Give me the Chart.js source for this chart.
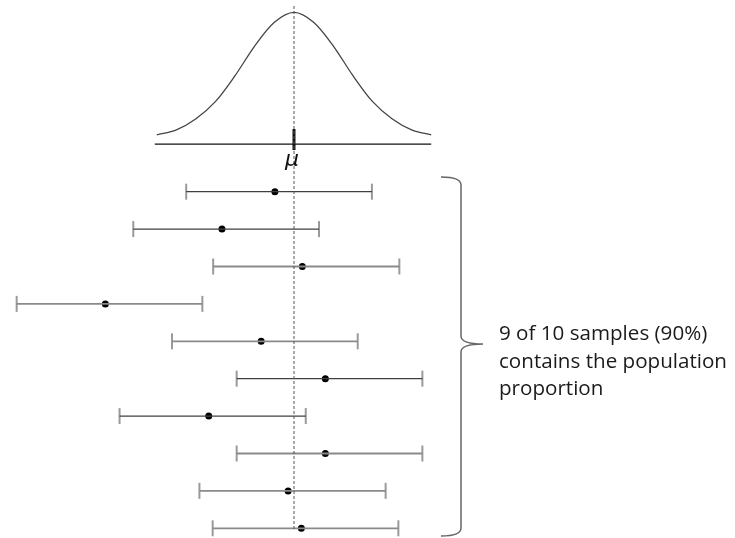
<!DOCTYPE html>
<html>
<head>
<meta charset="utf-8">
<script src="https://cdn.jsdelivr.net/npm/chart.js@4"></script>
<style>
  body { margin: 0; background: #fff; }
  #wrap { position: relative; width: 735px; height: 538px; }
  #note {
    position: absolute;
    left: 499px;
    top: 319px;
    font-family: "Open Sans", sans-serif;
    font-size: 20.6px;
    line-height: 27.5px;
    color: #1a1a1a;
  }
</style>
</head>
<body>
<div id="wrap">
  <canvas id="ciChart"></canvas>
  <div id="note">9 of 10 samples (90%)<br>contains the population<br>proportion</div>
</div>
<script>
// sampling distribution, x in standard errors from the true value
const mu = 0;
const curveX = [-2.8, -2.4, -2.0, -1.6, -1.2, -0.8, -0.4, 0, 0.4, 0.8, 1.2, 1.6, 2.0, 2.4, 2.8];
const curveY = [0.01, 0.05, 0.14, 0.28, 0.49, 0.73, 0.92, 1.0, 0.92, 0.73, 0.49, 0.28, 0.14, 0.05, 0.01];

// ten sample intervals, top to bottom
const samples = [1, 2, 3, 4, 5, 6, 7, 8, 9, 10];
const lower = [-2.2, -3.28, -1.65, -5.66, -2.49, -1.17, -3.56, -1.17, -1.93, -1.66];
const estimate = [-0.39, -1.47, 0.17, -3.85, -0.67, 0.64, -1.74, 0.64, -0.12, 0.15];
const upper = [1.59, 0.51, 2.15, -1.87, 1.3, 2.62, 0.24, 2.62, 1.87, 2.13];

const darkRows = [1, 2, 6, 7];

const intervalSets = samples.map((s, i) => ({
  type: "scatter",
  showLine: true,
  yAxisID: "ys",
  data: [
    { x: lower[i], y: s },
    { x: upper[i], y: s },
  ],
  borderColor: darkRows.includes(s) ? "#404040" : "#8a8a8a",
  borderWidth: darkRows.includes(s) ? 1.3 : 1.8,
  pointRadius: 0,
  clip: false,
}));

const overlay = {
  id: "overlay",
  afterDatasetsDraw(chart) {
    const ctx = chart.ctx;
    const x = chart.scales.x;
    const yc = chart.scales.yc;
    const mx = x.getPixelForValue(mu);
    const axisY = yc.getPixelForValue(0) + 8;

    ctx.save();
    // base line under the curve
    ctx.strokeStyle = "#111";
    ctx.lineWidth = 1.3;
    ctx.beginPath();
    ctx.moveTo(x.getPixelForValue(curveX[0]) - 2, axisY);
    ctx.lineTo(x.getPixelForValue(curveX[curveX.length - 1]), axisY);
    ctx.stroke();

    // tick at mu
    ctx.lineWidth = 3;
    ctx.beginPath();
    ctx.moveTo(mx, axisY - 15);
    ctx.lineTo(mx, axisY + 6);
    ctx.stroke();

    // dashed reference line
    ctx.strokeStyle = "#555";
    ctx.lineWidth = 1;
    ctx.setLineDash([3, 2]);
    ctx.beginPath();
    ctx.moveTo(mx, 6);
    ctx.lineTo(mx, 530);
    ctx.stroke();
    ctx.setLineDash([]);

    ctx.fillStyle = "#111";
    ctx.font = "italic 22px 'DejaVu Sans'";
    ctx.textAlign = "center";
    ctx.fillText("\u03bc", mx - 2, axisY + 22);

    // curly brace
    ctx.strokeStyle = "#666";
    ctx.lineWidth = 1.5;
    ctx.beginPath();
    ctx.moveTo(441, 177);
    ctx.quadraticCurveTo(461, 177, 461, 185);
    ctx.lineTo(461, 336);
    ctx.quadraticCurveTo(461, 344, 483, 344);
    ctx.quadraticCurveTo(461, 344, 461, 352);
    ctx.lineTo(461, 528);
    ctx.quadraticCurveTo(461, 536, 441, 536);
    ctx.stroke();
    ctx.restore();
  },
};

const ctx = document.getElementById("ciChart").getContext("2d");
new Chart(ctx, {
  type: "scatter",
  data: {
    datasets: [
      {
        type: "line",
        yAxisID: "yc",
        data: curveX.map((v, i) => ({ x: v, y: curveY[i] })),
        borderColor: "#444",
        borderWidth: 1.3,
        pointRadius: 0,
        cubicInterpolationMode: "monotone",
        clip: false,
      },
      ...intervalSets,
      {
        yAxisID: "ys",
        data: samples.flatMap((s, i) => [
          { x: lower[i], y: s },
          { x: upper[i], y: s },
        ]),
        pointStyle: "line",
        rotation: 90,
        radius: 8,
        borderColor: "#9a9a9a",
        borderWidth: 2,
        clip: false,
      },
      {
        yAxisID: "ys",
        data: samples.map((s, i) => ({ x: estimate[i], y: s })),
        pointRadius: 3.5,
        backgroundColor: "#000",
        borderColor: "#000",
        borderWidth: 0,
        clip: false,
      },
    ],
  },
  options: {
    responsive: true,
    maintainAspectRatio: false,
    animation: false,
    layout: { padding: 0, autoPadding: false },
    plugins: {
      legend: { display: false },
      tooltip: { enabled: false },
    },
    scales: {
      x: { type: "linear", min: -6, max: 9, display: false },
      yc: { type: "linear", min: -3.25, max: 1.1, display: false },
      ys: { type: "linear", reverse: true, min: -4.126, max: 10.26, display: false },
    },
  },
  plugins: [overlay],
});
</script>
</body>
</html>
